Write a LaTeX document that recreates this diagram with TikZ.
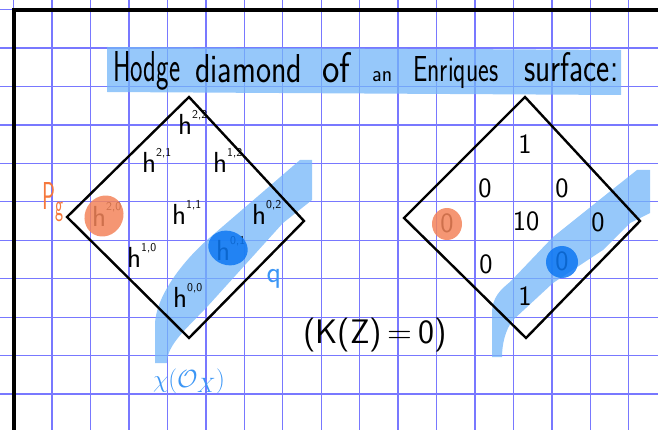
\documentclass[tikz,border=0pt]{standalone}
\usepackage{tikz}
\usepackage{graphicx}
\definecolor{gridblue}{RGB}{120,120,255}
\definecolor{hilite}{RGB}{115,181,248}
\definecolor{blobblue}{RGB}{14,120,243}
\definecolor{bloborange}{RGB}{243,132,90}
\definecolor{inkblue}{RGB}{60,150,245}
\definecolor{inkorange}{RGB}{245,120,60}
\newcommand{\word}[3]{\resizebox{#1pt}{#2pt}{#3}}
\newcommand{\hnum}[2]{h\raisebox{16pt}{\fontsize{12}{12}\selectfont #1,#2}}

\begin{document}
\begin{tikzpicture}[x=1pt,y=-1pt,
    gridline/.style={gridblue,line width=1.3pt},
    band/.style={fill=hilite,opacity=0.75},
    diamondline/.style={line width=2.4pt,line join=miter},
    title/.style={font=\sffamily\fontsize{40}{40}\selectfont,inner sep=0pt,anchor=base west},
    hlab/.style={font=\sffamily\fontsize{29}{29}\selectfont,inner sep=0pt,anchor=base west},
    num/.style={font=\sffamily\fontsize{28}{28}\selectfont,inner sep=0pt},
    blob/.style={opacity=0.85}]
    \useasboundingbox (0,0) rectangle (658,430);

    % Paper grid and margin lines
    \foreach \i in {0,...,17}
        \draw[gridline] ({13.6+38.45*\i},0) -- ++(0,430);
    \foreach \j in {0,...,11}
        \draw[gridline] (0,{9.6+38.45*\j}) -- ++(658,0);
    \draw[line width=4pt] (14,430) -- (14,10) -- (658,10);

    % Highlighted title
    \fill[hilite,opacity=0.75] (107,47) -- (621,50) -- (621,95) -- (107,92) -- cycle;
    \node[title] (w1) at (113,82) {\word{67}{30}{Hodge}};
    \node[title] (w2) at (195,83) {\word{107}{28}{diamond}};
    \node[title] (w3) at (322,83) {\word{28}{30}{of}};
    \node[title] (w4) at (372,82) {\word{20}{10}{an}};
    \node[title] (w5) at (413,82) {\word{85}{25}{Enriques}};
    \node[title] (w6) at (524,82) {\word{94}{29}{surface:}};

    % Blue bands along the lower right edges
    \fill[band] (155,363) -- (155,325) .. controls (155,300) and (178,266) .. (207,240)
        -- (300,160) -- (312,160) -- (312,200) -- (283,223) -- (207,307)
        .. controls (185,330) and (167,345) .. (167,363) -- cycle;
    \fill[band] (492,357) -- (492,313) .. controls (492,298) and (500,290) .. (510,282)
        -- (553,237) -- (603,197) -- (637,170) -- (650,170) -- (650,213) -- (630,223)
        -- (603,250) -- (553,283) -- (513,320)
        .. controls (505,330) and (502,345) .. (502,357) -- cycle;

    % Left diamond - symbols
    \coordinate (lt) at (189,97);
    \coordinate (lr) at (304,221);
    \coordinate (lb) at (189,338);
    \coordinate (ll) at (67,217);
    \draw[diamondline] (lt) -- (lr) -- (lb) -- (ll) -- cycle;
    \node[hlab] (h22) at (178,135) {\hnum{2}{2}};
    \node[hlab] (h21) at (142,173) {\hnum{2}{1}};
    \node[hlab] (h12) at (213,173) {\hnum{1}{2}};
    \node[hlab] (h20) at (92,227) {\hnum{2}{0}};
    \node[hlab] (h11) at (172,225) {\hnum{1}{1}};
    \node[hlab] (h02) at (252,225) {\hnum{0}{2}};
    \node[hlab] (h10) at (127,267) {\hnum{1}{0}};
    \node[hlab] (h01) at (216,260) {\hnum{0}{1}};
    \node[hlab] (h00) at (173,307) {\hnum{0}{0}};

    % Right diamond - values
    \coordinate (rt) at (525,97);
    \coordinate (rr) at (640,221);
    \coordinate (rb) at (526,338);
    \coordinate (rl) at (404,218);
    \draw[diamondline] (rt) -- (rr) -- (rb) -- (rl) -- cycle;
    \node[num] (v22) at (525,144) {1};
    \node[num] (v21) at (485,188) {0};
    \node[num] (v12) at (562,188) {0};
    \node[num] (v20) at (447,223) {0};
    \node[num] (v11) at (526,221) {10};
    \node[num] (v02) at (598,222) {0};
    \node[num] (v10) at (486,264) {0};
    \node[num] (v01) at (562,261) {0};
    \node[num] (v00) at (525,296) {1};

    % Marked entries
    \fill[bloborange,blob,rotate around={-30:(104,216)}] (104,216) ellipse (19 and 21);
    \fill[bloborange,blob] (447,224) ellipse (15 and 16);
    \fill[blobblue,blob,rotate around={-20:(228,248)}] (228,248) ellipse (20 and 17);
    \fill[blobblue,blob] (562,262) ellipse (16 and 16);

    % Side notes
    \node[inkorange,font=\sffamily\fontsize{38}{38}\selectfont,inner sep=0pt,anchor=base west] (pg) at (42,210) {\word{21}{27}{P\raisebox{-5pt}{\fontsize{30}{30}\selectfont g}}};
    \node[inkblue,font=\sffamily\fontsize{30}{30}\selectfont,inner sep=0pt] (q) at (274,279) {q};
    \node[inkblue,font=\fontsize{30}{30}\selectfont,inner sep=0pt] (chi) at (189,381) {$\chi(\mathcal{O}_X)$};
    \node[font=\sffamily\fontsize{34}{34}\selectfont,inner sep=0pt] (kz) at (375,335) {(K(Z)\,=\,0)};
\end{tikzpicture}
\end{document}
